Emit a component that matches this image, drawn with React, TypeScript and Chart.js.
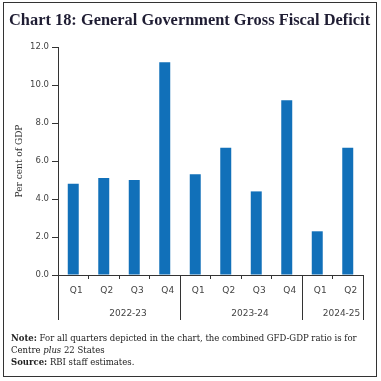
import React, { useEffect, useRef } from "react";
import { Chart, registerables } from "chart.js";

Chart.register(...registerables);

const quarters = ["Q1", "Q2", "Q3", "Q4", "Q1", "Q2", "Q3", "Q4", "Q1", "Q2"];
const values = [4.8, 5.1, 5.0, 11.2, 5.3, 6.7, 4.4, 9.2, 2.3, 6.7];
const years = ["2022-23", "2023-24", "2024-25"];
const groupSizes = [4, 4, 2];
const yTicks = [0, 2, 4, 6, 8, 10, 12];

const AXIS = "#333333";
const TICK_FONT = "'DejaVu Sans', Verdana, sans-serif";
const SERIF = "'Liberation Serif', 'Times New Roman', serif";
const NOTE_SERIF = "'DejaVu Serif', serif";

const groupPlugin = {
  id: "groups",
  afterDraw(chart: any) {
    const { ctx, chartArea } = chart;
    const xs = chart.scales.x;
    ctx.save();
    ctx.strokeStyle = AXIS;
    ctx.lineWidth = 1;
    let start = -0.5;
    const bounds = [start];
    groupSizes.forEach((n) => {
      start += n;
      bounds.push(start);
    });
    const top = chartArea.bottom;
    const bottom = top + 45;
    bounds.forEach((b) => {
      const px = Math.round(xs.getPixelForValue(b)) + 0.5;
      ctx.beginPath();
      ctx.moveTo(px, top);
      ctx.lineTo(px, bottom);
      ctx.stroke();
    });
    ctx.fillStyle = "#444444";
    ctx.font = `9px ${TICK_FONT}`;
    ctx.textAlign = "center";
    ctx.textBaseline = "middle";
    years.forEach((y, i) => {
      const a = xs.getPixelForValue(bounds[i]);
      const b = xs.getPixelForValue(bounds[i + 1]);
      ctx.fillText(y, (a + b) / 2 + 9, top + 39);
    });
    ctx.restore();
  },
};

export default function App() {
  const ref = useRef<HTMLCanvasElement | null>(null);
  useEffect(() => {
    if (!ref.current) return;
    const chart = new Chart(ref.current, {
      type: "bar",
      data: {
        labels: quarters,
        datasets: [
          {
            data: values,
            backgroundColor: "#1170b9",
            categoryPercentage: 1,
            barPercentage: 0.36,
          },
        ],
      },
      options: {
        animation: false,
        responsive: false,
        devicePixelRatio: 1,
        layout: { padding: { top: 47, right: 18, left: 0, bottom: 0 } },
        plugins: { legend: { display: false }, tooltip: { enabled: false } },
        scales: {
          x: {
            afterFit: (s: any) => {
              s.height = 106;
            },
            grid: {
              offset: true,
              drawOnChartArea: false,
              drawTicks: true,
              tickLength: 4,
              color: AXIS,
            },
            border: { color: AXIS },
            ticks: {
              color: "#444444",
              font: { family: TICK_FONT, size: 9 },
              padding: 6,
              labelOffset: 3,
              maxRotation: 0,
            },
          },
          y: {
            min: 0,
            max: 12,
            afterFit: (s: any) => {
              s.width = 58;
            },
            afterBuildTicks: (s: any) => {
              s.ticks = yTicks.map((v) => ({ value: v }));
            },
            grid: {
              drawOnChartArea: false,
              drawTicks: true,
              tickLength: 6,
              color: AXIS,
            },
            border: { color: AXIS },
            ticks: {
              color: "#444444",
              font: { family: TICK_FONT, size: 8.5 },
              padding: 3,
              callback: (v: any) => Number(v).toFixed(1),
            },
            title: {
              display: true,
              text: "Per cent of GDP",
              color: "#333333",
              font: { family: NOTE_SERIF, size: 9 },
              padding: { top: 14.5, bottom: 0 },
            },
          },
        },
      },
      plugins: [groupPlugin],
    });
    return () => chart.destroy();
  }, []);

  return (
    <div
      style={{
        position: "fixed",
        left: 0,
        top: 0,
        width: 381,
        height: 381,
        background: "#ffffff",
        overflow: "hidden",
      }}
    >
      <canvas
        ref={ref}
        width={381}
        height={381}
        style={{ position: "absolute", left: 0, top: 0, width: 381, height: 381 }}
      />
      <div
        style={{
          position: "absolute",
          left: 3,
          top: 2,
          width: 372,
          height: 373,
          border: "1px solid #333333",
          pointerEvents: "none",
        }}
      />
      <div
        style={{
          position: "absolute",
          left: 9,
          top: 12,
          fontFamily: SERIF,
          fontWeight: "bold",
          fontSize: 16.4,
          lineHeight: "16px",
          color: "#1f1d33",
          whiteSpace: "nowrap",
        }}
      >
        Chart 18: General Government Gross Fiscal Deficit
      </div>
      <div
        style={{
          position: "absolute",
          left: 11,
          top: 331.5,
          fontFamily: NOTE_SERIF,
          fontSize: 8.5,
          lineHeight: "12px",
          color: "#222222",
          whiteSpace: "nowrap",
        }}
      >
        <div>
          <b>Note:</b> For all quarters depicted in the chart, the combined GFD-GDP ratio is for
        </div>
        <div>
          Centre <i>plus</i> 22 States
        </div>
        <div>
          <b>Source:</b> RBI staff estimates.
        </div>
      </div>
    </div>
  );
}
